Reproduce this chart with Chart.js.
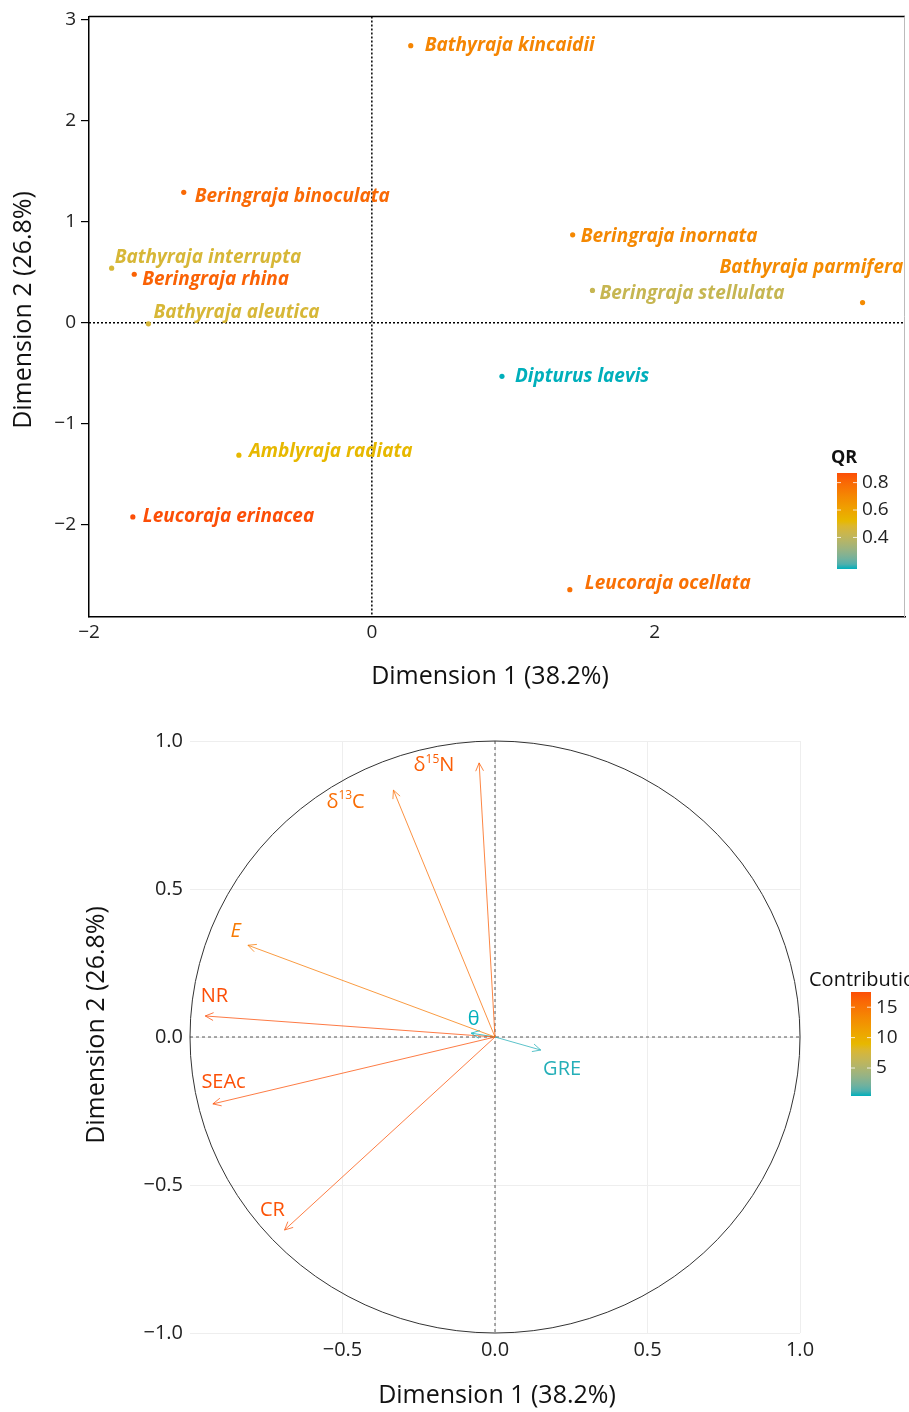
<!DOCTYPE html>
<html>
<head>
<meta charset="utf-8">
<script src="https://cdn.jsdelivr.net/npm/chart.js@4.4.1/dist/chart.umd.min.js"></script>
<style>
  body { margin: 0; background: #fff; }
  canvas { position: absolute; left: 0; }
  #ind { top: 0; }
  #var { top: 700px; }
</style>
</head>
<body>
<canvas id="ind" width="909" height="700"></canvas>
<canvas id="var" width="909" height="712"></canvas>
<script>
// individuals (top panel)
const species = ['Bathyraja kincaidii', 'Beringraja binoculata', 'Bathyraja interrupta', 'Beringraja rhina',
    'Bathyraja aleutica', 'Beringraja inornata', 'Bathyraja parmifera', 'Beringraja stellulata',
    'Dipturus laevis', 'Amblyraja radiata', 'Leucoraja erinacea', 'Leucoraja ocellata'];
const dim1 = [0.275, -1.33, -1.84, -1.68, -1.58, 1.42, 3.47, 1.56, 0.92, -0.94, -1.69, 1.40];
const dim2 = [2.74, 1.29, 0.54, 0.48, -0.01, 0.87, 0.20, 0.32, -0.53, -1.31, -1.92, -2.64];
const qr = [0.71, 0.80, 0.47, 0.82, 0.47, 0.70, 0.69, 0.42, 0.17, 0.52, 0.87, 0.78];
const indXTicks = [-2, 0, 2];
const indYTicks = [-2, -1, 0, 1, 2, 3];
const qrTicks = [0.4, 0.6, 0.8];
// label nudges in px (dx to text start, dy to text middle)
const labelShift = [[14, 0], [11, 4], [3, -11], [8, 5], [5, -11], [8, 2], [-143, -35], [7, 3], [13, 0], [10, -4], [10, 0], [15, -6]];

// variables (bottom panel)
const variables = ['δ^15^N', 'δ^13^C', 'E', 'NR', 'θ', 'GRE', 'SEAc', 'CR'];
const varDim1 = [-0.052, -0.333, -0.81, -0.95, -0.078, 0.15, -0.925, -0.69];
const varDim2 = [0.926, 0.834, 0.31, 0.071, 0.013, -0.044, -0.226, -0.652];
const contrib = [16.5, 15.5, 14.5, 17.5, 0.4, 0.6, 17.4, 17.2];
const varLabelX = [-0.2, -0.49, -0.85, -0.92, -0.07, 0.22, -0.89, -0.73];
const varLabelY = [0.917, 0.794, 0.358, 0.139, 0.061, -0.108, -0.152, -0.586];
const varXTicks = [-0.5, 0, 0.5, 1];
const varYTicks = [-1, -0.5, 0, 0.5, 1];
const contribTicks = [5, 10, 15];

const rampStops = ['#00AFBB', '#E7B800', '#FC4E07'];
const FONT = '"Open Sans", Lato, sans-serif';

Chart.defaults.font.family = FONT;
Chart.defaults.color = '#222';

function hexToRgb(hex) {
    const n = parseInt(hex.slice(1), 16);
    return [(n >> 16) & 255, (n >> 8) & 255, n & 255];
}

// colour ramp interpolated in Lab, like ggplot's gradient palettes
function rgbToLab(rgb) {
    const lin = rgb.map(c => { c /= 255; return c <= 0.04045 ? c / 12.92 : Math.pow((c + 0.055) / 1.055, 2.4); });
    const X = (0.4124 * lin[0] + 0.3576 * lin[1] + 0.1805 * lin[2]) / 0.95047;
    const Y = 0.2126 * lin[0] + 0.7152 * lin[1] + 0.0722 * lin[2];
    const Z = (0.0193 * lin[0] + 0.1192 * lin[1] + 0.9505 * lin[2]) / 1.08883;
    const f = t => t > 0.008856 ? Math.cbrt(t) : 7.787 * t + 16 / 116;
    const fx = f(X), fy = f(Y), fz = f(Z);
    return [116 * fy - 16, 500 * (fx - fy), 200 * (fy - fz)];
}

function labToRgb(lab) {
    const fy = (lab[0] + 16) / 116, fx = fy + lab[1] / 500, fz = fy - lab[2] / 200;
    const inv = t => t * t * t > 0.008856 ? t * t * t : (t - 16 / 116) / 7.787;
    const X = inv(fx) * 0.95047, Y = inv(fy), Z = inv(fz) * 1.08883;
    const lin = [
        3.2406 * X - 1.5372 * Y - 0.4986 * Z,
        -0.9689 * X + 1.8758 * Y + 0.0415 * Z,
        0.0557 * X - 0.2040 * Y + 1.0570 * Z
    ];
    return lin.map(c => {
        c = c <= 0.0031308 ? 12.92 * c : 1.055 * Math.pow(c, 1 / 2.4) - 0.055;
        return Math.round(Math.max(0, Math.min(1, c)) * 255);
    });
}

const rampLab = rampStops.map(h => rgbToLab(hexToRgb(h)));

function rampColor(value, min, max, alpha = 1) {
    const t = Math.max(0, Math.min(1, (value - min) / (max - min)));
    const seg = t < 0.5 ? 0 : 1;
    const local = (t - seg * 0.5) * 2;
    const a = rampLab[seg], b = rampLab[seg + 1];
    const rgb = labToRgb(a.map((v, i) => v + (b[i] - v) * local));
    return 'rgba(' + rgb.join(',') + ',' + alpha + ')';
}

function fmt(v, digits) {
    const s = Number(v).toFixed(digits);
    return s.replace('-', '\u2212');
}

function drawColorbar(ctx, o) {
    ctx.save();
    ctx.fillStyle = '#111';
    ctx.font = o.titleFont;
    ctx.textAlign = 'left';
    ctx.textBaseline = 'middle';
    ctx.fillText(o.title, o.titleX, o.titleY);
    const grad = ctx.createLinearGradient(0, o.y + o.h, 0, o.y);
    for (let k = 0; k <= 20; k++) grad.addColorStop(k / 20, rampColor(k, 0, 20));
    ctx.fillStyle = grad;
    ctx.fillRect(o.x, o.y, o.w, o.h);
    ctx.font = o.labelFont;
    o.ticks.forEach(v => {
        const py = o.y + o.h - (v - o.min) / (o.max - o.min) * o.h;
        ctx.strokeStyle = 'rgba(255,255,255,0.8)';
        ctx.lineWidth = 1;
        ctx.beginPath();
        ctx.moveTo(o.x, py); ctx.lineTo(o.x + 4, py);
        ctx.moveTo(o.x + o.w - 4, py); ctx.lineTo(o.x + o.w, py);
        ctx.stroke();
        ctx.fillStyle = '#222';
        ctx.fillText(fmt(v, o.digits), o.x + o.w + 5, py);
    });
    ctx.restore();
}

function drawAxisTitle(ctx, text, x, y, vertical) {
    ctx.save();
    ctx.translate(x, y);
    if (vertical) ctx.rotate(-Math.PI / 2);
    ctx.font = '25px ' + FONT;
    ctx.fillStyle = '#111';
    ctx.textAlign = 'center';
    ctx.textBaseline = 'middle';
    ctx.fillText(text, 0, 0);
    ctx.restore();
}

const qrMin = Math.min(...qr), qrMax = Math.max(...qr);
const qrColors = qr.map(v => rampColor(v, qrMin, qrMax));

const indDecor = {
    id: 'indDecor',
    beforeDatasetsDraw(chart) {
        const {ctx, chartArea: a, scales: {x, y}} = chart;
        ctx.save();
        ctx.strokeStyle = '#000';
        ctx.lineWidth = 1.5;
        ctx.setLineDash([2, 2]);
        ctx.beginPath();
        ctx.moveTo(x.getPixelForValue(0), a.top); ctx.lineTo(x.getPixelForValue(0), a.bottom);
        ctx.moveTo(a.left, y.getPixelForValue(0)); ctx.lineTo(a.right, y.getPixelForValue(0));
        ctx.stroke();
        ctx.setLineDash([]);
        ctx.beginPath();
        ctx.moveTo(a.left, a.top); ctx.lineTo(a.right, a.top);
        ctx.stroke();
        ctx.strokeStyle = '#bbb';
        ctx.lineWidth = 1;
        ctx.beginPath();
        ctx.moveTo(a.right - 0.5, a.top); ctx.lineTo(a.right - 0.5, a.bottom);
        ctx.stroke();
        ctx.restore();
    },
    afterDatasetsDraw(chart) {
        const {ctx, scales: {x, y}} = chart;
        ctx.save();
        ctx.font = 'italic bold 19px ' + FONT;
        ctx.textAlign = 'left';
        ctx.textBaseline = 'middle';
        species.forEach((name, i) => {
            ctx.fillStyle = qrColors[i];
            ctx.fillText(name, x.getPixelForValue(dim1[i]) + labelShift[i][0], y.getPixelForValue(dim2[i]) + labelShift[i][1]);
        });
        ctx.restore();
        drawAxisTitle(ctx, 'Dimension 1 (38.2%)', 490, 677, false);
        drawAxisTitle(ctx, 'Dimension 2 (26.8%)', 24, 310, true);
        drawColorbar(ctx, {
            title: 'QR', titleFont: 'bold 18px ' + FONT, titleX: 831, titleY: 458,
            x: 837, y: 473, w: 20, h: 96, min: qrMin, max: qrMax,
            ticks: qrTicks, digits: 1, labelFont: '19px ' + FONT
        });
    }
};

new Chart(document.getElementById('ind'), {
    type: 'scatter',
    data: {
        datasets: [{
            data: species.map((s, i) => ({x: dim1[i], y: dim2[i]})),
            pointBackgroundColor: qrColors,
            pointBorderWidth: 0,
            pointRadius: 2.6
        }]
    },
    options: {
        responsive: false,
        animation: false,
        layout: {padding: {top: 16, right: 1, left: 0, bottom: 0}},
        plugins: {legend: {display: false}, tooltip: {enabled: false}},
        scales: {
            x: {
                type: 'linear', min: -2, max: 3.77,
                afterBuildTicks: s => { s.ticks = indXTicks.map(v => ({value: v})); },
                afterFit: s => { s.height = 83; },
                grid: {display: false, drawTicks: false},
                border: {display: true, color: '#000', width: 1.5},
                ticks: {font: {size: 19}, color: '#222', padding: 4, maxRotation: 0, callback: v => fmt(v, 0)},
                title: {display: false}
            },
            y: {
                type: 'linear', min: -2.91, max: 3.03,
                afterBuildTicks: s => { s.ticks = indYTicks.map(v => ({value: v})); },
                afterFit: s => { s.width = 89; },
                grid: {drawOnChartArea: false, drawTicks: true, tickLength: 8, color: '#000', lineWidth: 1.2},
                border: {display: true, color: '#000', width: 1.5},
                ticks: {font: {size: 19}, color: '#222', padding: 5, callback: v => fmt(v, 0)},
                title: {display: false}
            }
        }
    },
    plugins: [indDecor]
});

const cMin = Math.min(...contrib), cMax = Math.max(...contrib);
const contribColors = contrib.map(v => rampColor(v, cMin, cMax));
const arrowColors = contrib.map(v => rampColor(v, cMin, cMax, 0.75));

function drawRich(ctx, text, cx, cy, size, italic) {
    const parts = text.split('^');
    const base = (italic ? 'italic ' : '') + size + 'px ' + FONT;
    const sup = Math.round(size * 0.62) + 'px ' + FONT;
    let total = 0;
    parts.forEach((p, k) => { ctx.font = k % 2 ? sup : base; total += ctx.measureText(p).width; });
    let px = cx - total / 2;
    ctx.textAlign = 'left';
    parts.forEach((p, k) => {
        ctx.font = k % 2 ? sup : base;
        ctx.textBaseline = 'middle';
        ctx.fillText(p, px, k % 2 ? cy - size * 0.3 : cy);
        px += ctx.measureText(p).width;
    });
}

const varDecor = {
    id: 'varDecor',
    beforeDatasetsDraw(chart) {
        const {ctx, chartArea: a, scales: {x, y}} = chart;
        ctx.save();
        ctx.strokeStyle = '#555';
        ctx.lineWidth = 1;
        ctx.setLineDash([3, 3]);
        ctx.beginPath();
        ctx.moveTo(x.getPixelForValue(0), a.top); ctx.lineTo(x.getPixelForValue(0), a.bottom);
        ctx.moveTo(a.left, y.getPixelForValue(0)); ctx.lineTo(a.right, y.getPixelForValue(0));
        ctx.stroke();
        ctx.setLineDash([]);
        // unit correlation circle
        ctx.strokeStyle = '#333';
        ctx.beginPath();
        for (let k = 0; k <= 100; k++) {
            const t = k / 100 * Math.PI * 2;
            const px = x.getPixelForValue(Math.cos(t)), py = y.getPixelForValue(Math.sin(t));
            if (k === 0) ctx.moveTo(px, py); else ctx.lineTo(px, py);
        }
        ctx.stroke();
        ctx.restore();
    },
    afterDatasetsDraw(chart) {
        const {ctx, scales: {x, y}} = chart;
        ctx.save();
        chart.data.datasets.forEach((ds, i) => {
            const pts = chart.getDatasetMeta(i).data;
            const x0 = pts[0].x, y0 = pts[0].y, x1 = pts[1].x, y1 = pts[1].y;
            const ang = Math.atan2(y1 - y0, x1 - x0);
            ctx.strokeStyle = ds.borderColor;
            ctx.lineWidth = 1;
            ctx.beginPath();
            ctx.moveTo(x1 - 9 * Math.cos(ang - 0.45), y1 - 9 * Math.sin(ang - 0.45));
            ctx.lineTo(x1, y1);
            ctx.lineTo(x1 - 9 * Math.cos(ang + 0.45), y1 - 9 * Math.sin(ang + 0.45));
            ctx.stroke();
            ctx.fillStyle = contribColors[i];
            drawRich(ctx, variables[i], x.getPixelForValue(varLabelX[i]), y.getPixelForValue(varLabelY[i]), 20, variables[i] === 'E');
        });
        ctx.restore();
        drawAxisTitle(ctx, 'Dimension 1 (38.2%)', 497, 696, false);
        drawAxisTitle(ctx, 'Dimension 2 (26.8%)', 97, 325, true);
        drawColorbar(ctx, {
            title: 'Contribution', titleFont: '20px ' + FONT, titleX: 809, titleY: 280,
            x: 851, y: 292, w: 20, h: 104, min: cMin, max: cMax,
            ticks: contribTicks, digits: 0, labelFont: '19px ' + FONT
        });
    }
};

new Chart(document.getElementById('var'), {
    type: 'scatter',
    data: {
        datasets: variables.map((v, i) => ({
            label: v.replace(/\^/g, ''),
            data: [{x: 0, y: 0}, {x: varDim1[i], y: varDim2[i]}],
            showLine: true,
            borderColor: arrowColors[i],
            borderWidth: 1,
            pointRadius: 0
        }))
    },
    options: {
        responsive: false,
        animation: false,
        layout: {padding: {top: 41, right: 109, left: 0, bottom: 0}},
        plugins: {legend: {display: false}, tooltip: {enabled: false}},
        scales: {
            x: {
                type: 'linear', min: -1.0, max: 1.0,
                afterBuildTicks: s => { s.ticks = varXTicks.map(v => ({value: v})); },
                afterFit: s => { s.height = 79; },
                grid: {color: '#eeeeee', drawTicks: false},
                border: {display: false},
                ticks: {font: {size: 20}, color: '#222', padding: 5, maxRotation: 0, callback: v => fmt(v, 1)},
                title: {display: false}
            },
            y: {
                type: 'linear', min: -1.0, max: 1.0,
                afterBuildTicks: s => { s.ticks = varYTicks.map(v => ({value: v})); },
                afterFit: s => { s.width = 190; },
                grid: {color: '#eeeeee', drawTicks: false},
                border: {display: false},
                ticks: {font: {size: 20}, color: '#222', padding: 7, callback: v => fmt(v, 1)},
                title: {display: false}
            }
        }
    },
    plugins: [varDecor]
});
</script>
</body>
</html>
